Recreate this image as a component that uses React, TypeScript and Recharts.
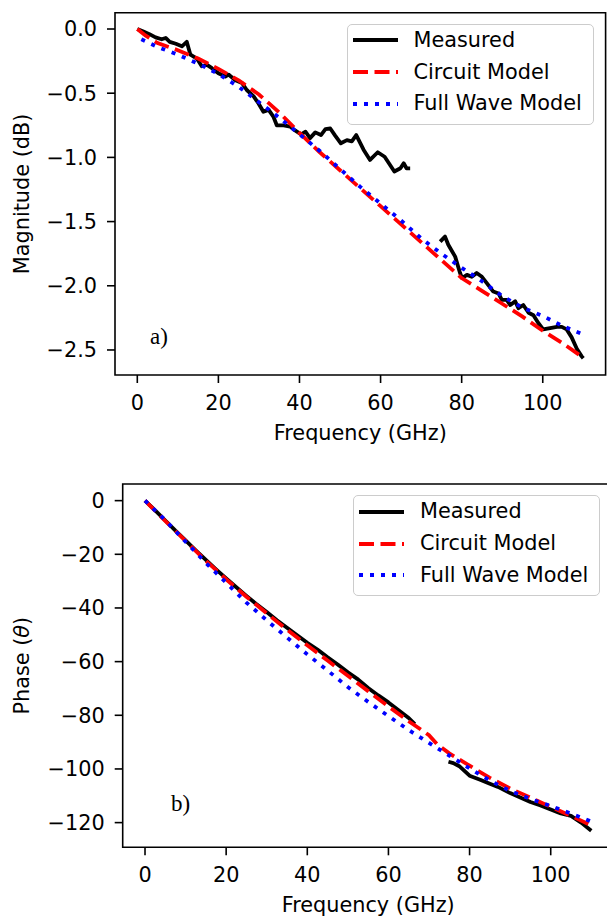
import React from 'react';
import { LineChart, Line, XAxis, YAxis, ReferenceArea, Legend } from 'recharts';

const FONT = 'DejaVu Sans, sans-serif';
const FS = 20.8;
const LW = 3.8;

// shared
const freqTicks = [0, 20, 40, 60, 80, 100];

// a) magnitude (dB)
const magTicks = [0, -0.5, -1.0, -1.5, -2.0, -2.5];
const magMeasFreq = [
  0, 1.5, 3, 4.5, 6, 7, 8, 9.5, 11, 12.2, 13.1, 14.7, 15.9, 17.2, 18.4, 20, 21.7, 22.5, 24.2, 25.8, 27, 28.7,
  29.9, 31.1, 32.4, 33.6, 34.4, 36.1, 37.7, 38.9, 40.4, 41.5, 42.6, 43.9, 45.3, 46.4, 47.6, 48.8, 50.2, 51.7,
  52.9, 54.0, 55.8, 57.4, 59.3, 61, 63.4, 64.9, 65.7, 66.4, 67.3,
  71,
  74.7, 75.9, 76.7, 78.4, 79.6, 80.1, 81.3, 82.5, 83.7, 85, 86.2, 87.8, 89.1, 89.9, 91.1, 92, 93.2, 94, 95.2,
  96.5, 97.7, 98.9, 100.1, 101.8, 103.5, 104.7, 105.9, 107.1, 108.4, 109.6, 110,
];
const magMeasDb = [
  0, -0.02, -0.04, -0.065, -0.08, -0.07, -0.1, -0.115, -0.135, -0.1, -0.2, -0.23, -0.29, -0.28, -0.305, -0.345,
  -0.37, -0.355, -0.4, -0.42, -0.475, -0.525, -0.58, -0.645, -0.63, -0.685, -0.75, -0.75, -0.76, -0.79, -0.82,
  -0.8, -0.85, -0.805, -0.826, -0.78, -0.775, -0.83, -0.89, -0.865, -0.875, -0.826, -0.94, -1.02, -0.96, -0.995,
  -1.11, -1.085, -1.046, -1.085, -1.085,
  null,
  -1.656, -1.617, -1.68, -1.773, -1.9, -1.94, -1.915, -1.93, -1.9, -1.93, -1.98, -2.045, -2.06, -2.11, -2.11,
  -2.15, -2.12, -2.175, -2.15, -2.21, -2.23, -2.29, -2.34, -2.33, -2.32, -2.32, -2.34, -2.4, -2.49, -2.55, -2.565,
];
const magCircuitFreq = [0, 2, 5, 10, 15, 20, 25, 30, 35, 40, 45, 50, 55, 60, 65, 70, 75, 80, 85, 90, 95, 100, 105, 110];
const magCircuitDb = [
  0, -0.05, -0.11, -0.165, -0.23, -0.31, -0.4, -0.51, -0.65, -0.81, -0.96, -1.1, -1.24, -1.38, -1.52, -1.66, -1.8,
  -1.94, -2.04, -2.14, -2.24, -2.35, -2.45, -2.56,
];
const magWaveFreq = [1, 5, 10, 15, 20, 25, 30, 35, 40, 45, 50, 55, 60, 65, 70, 75, 80, 85, 90, 95, 100, 105, 110];
const magWaveDb = [
  -0.08, -0.14, -0.2, -0.27, -0.35, -0.45, -0.57, -0.69, -0.82, -0.95, -1.09, -1.23, -1.36, -1.49, -1.63, -1.75,
  -1.86, -1.965, -2.08, -2.17, -2.235, -2.315, -2.38,
];

// b) phase
const phaseTicks = [0, -20, -40, -60, -80, -100, -120];
const phaseMeasFreq = [
  0, 2.5, 5, 7.5, 10, 12.5, 15, 17.5, 20, 22.5, 25, 27.5, 30, 32.5, 35, 37.5, 40, 42.5, 45, 47.5, 50, 52.5, 55,
  57.5, 60, 62.5, 65, 66.5,
  71,
  74.8, 76, 77.6, 80, 82.6, 85, 87, 90, 92.5, 95, 97.5, 100, 102.5, 105, 107.5, 110,
];
const phaseMeasDeg = [
  0, -3.6, -7.4, -11.2, -14.8, -18.5, -22.1, -25.6, -29, -32.3, -35.5, -38.6, -41.5, -44.6, -47.4, -50.2, -53,
  -55.5, -58.4, -61.1, -64, -66.6, -69.8, -72.6, -75.2, -78.1, -81, -83.3,
  null,
  -97.3, -97.8, -99.1, -102.5, -104, -105.5, -106.7, -109, -110.6, -112.3, -113.6, -115.1, -116.6, -117.5, -120, -123,
];
const phaseCircuitFreq = [0, 5, 10, 15, 20, 25, 30, 35, 40, 45, 50, 55, 60, 65, 70, 72, 75, 80, 85, 90, 95, 100, 105, 110];
const phaseCircuitDeg = [
  0, -7.6, -15, -22.4, -29.3, -35.8, -42, -48.1, -53.9, -59.6, -65.3, -71, -76.7, -82.2, -87.4, -90.8, -94.2, -98.8,
  -103.3, -107.3, -110.7, -114.1, -117.5, -121,
];
const phaseWaveFreq = [0, 5, 10, 15, 20, 25, 30, 35, 40, 45, 50, 55, 60, 65, 70, 75, 80, 85, 90, 95, 100, 105, 110];
const phaseWaveDeg = [
  0, -7.3, -15.3, -23.2, -30.6, -38, -44.6, -51, -57.3, -63.3, -69.5, -75, -80.3, -85.5, -90.3, -95, -99.8, -104.3,
  -108.2, -111.2, -113.8, -116.6, -119.6,
];

const SERIES = [
  { name: 'Measured', color: '#000000', dash: undefined as string | undefined },
  { name: 'Circuit Model', color: '#ff0000', dash: '15 6.5' },
  { name: 'Full Wave Model', color: '#0000ff', dash: '4 7' },
];

const zip = (f: number[], v: (number | null)[]) => f.map((x, i) => ({ f: x, v: v[i] }));

const minus = (s: string) => s.replace('-', '\u2212');
const tickStyle = { fill: '#000', fontSize: FS, fontFamily: FONT };
const tickLine = { stroke: '#000', strokeWidth: 1.6 };

function AxisTitle({ px, py, vertical, caption }: any) {
  return (
    <text
      x={px}
      y={py}
      textAnchor="middle"
      fontFamily={FONT}
      fontSize={FS}
      fill="#000"
      transform={vertical ? `rotate(-90 ${px} ${py})` : undefined}
    >
      {caption}
    </text>
  );
}

function LegendBox() {
  return (
    <div
      style={{
        width: 247,
        height: 101,
        boxSizing: 'border-box',
        border: '1.5px solid #cccccc',
        borderRadius: 5,
        background: 'rgba(255,255,255,0.8)',
        paddingLeft: 5,
        fontFamily: FONT,
        fontSize: FS,
        color: '#000',
      }}
    >
      {SERIES.map((s) => (
        <div key={s.name} style={{ display: 'flex', alignItems: 'center', height: 31.7 }}>
          <svg width={45} height={10} style={{ display: 'block' }}>
            <line x1={0} x2={45} y1={5} y2={5} stroke={s.color} strokeWidth={LW} strokeDasharray={s.dash} />
          </svg>
          <span style={{ marginLeft: 16, lineHeight: 1, whiteSpace: 'nowrap' }}>{s.name}</span>
        </div>
      ))}
    </div>
  );
}

function MagnitudeChart() {
  return (
    <LineChart width={607} height={460} margin={{ top: 12.7, right: 1.4, bottom: 33, left: 0 }}>
      <XAxis
        type="number"
        dataKey="f"
        domain={[-5.5, 115.5]}
        allowDataOverflow
        ticks={freqTicks}
        interval={0}
        height={52}
        tickSize={8}
        tickMargin={12}
        axisLine={false}
        tickLine={tickLine}
        tick={tickStyle}
        label={<AxisTitle px={360.3} py={440} caption="Frequency (GHz)" />}
      />
      <YAxis
        type="number"
        domain={[-2.695, 0.127]}
        allowDataOverflow
        ticks={magTicks}
        interval={0}
        width={115}
        tickSize={8}
        tickMargin={10}
        axisLine={false}
        tickLine={tickLine}
        tick={tickStyle}
        tickFormatter={(v: number) => minus(v.toFixed(1))}
        label={<AxisTitle px={29} py={193.9} vertical caption="Magnitude (dB)" />}
      />
      <ReferenceArea x1={-5.5} x2={115.5} y1={-2.695} y2={0.127} fill="none" stroke="#000" strokeWidth={1.6} />
      <Line data={zip(magMeasFreq, magMeasDb)} dataKey="v" type="linear" stroke="#000" strokeWidth={LW}
        strokeLinejoin="round" dot={false} activeDot={false} isAnimationActive={false} />
      <Line data={zip(magCircuitFreq, magCircuitDb)} dataKey="v" type="linear" stroke="#ff0000" strokeWidth={LW}
        strokeDasharray="15 6.5" dot={false} activeDot={false} isAnimationActive={false} />
      <Line data={zip(magWaveFreq, magWaveDb)} dataKey="v" type="linear" stroke="#0000ff" strokeWidth={LW}
        strokeDasharray="4 7" dot={false} activeDot={false} isAnimationActive={false} />
      <Legend layout="vertical" align="center" verticalAlign="middle"
        wrapperStyle={{ left: 346.5, top: 23.5, width: 247, height: 101 }} content={() => <LegendBox />} />
    </LineChart>
  );
}

function PhaseChart() {
  return (
    <LineChart width={620} height={459} margin={{ top: 24, right: 6.4, bottom: 19.7, left: 0 }}>
      <XAxis
        type="number"
        dataKey="f"
        domain={[-5.5, 115.5]}
        allowDataOverflow
        ticks={freqTicks}
        interval={0}
        height={52}
        tickSize={8}
        tickMargin={12}
        axisLine={false}
        tickLine={tickLine}
        tick={tickStyle}
        label={<AxisTitle px={368.2} py={452} caption="Frequency (GHz)" />}
      />
      <YAxis
        type="number"
        domain={[-129.2, 6.2]}
        allowDataOverflow
        ticks={phaseTicks}
        interval={0}
        width={122.7}
        tickSize={8}
        tickMargin={10}
        axisLine={false}
        tickLine={tickLine}
        tick={tickStyle}
        tickFormatter={(v: number) => minus(String(v))}
        label={
          <AxisTitle px={29} py={205.7} vertical caption={<>Phase (<tspan fontStyle="italic">θ</tspan>)</>} />
        }
      />
      <ReferenceArea x1={-5.5} x2={115.5} y1={-129.2} y2={6.2} fill="none" stroke="#000" strokeWidth={1.6} />
      <Line data={zip(phaseMeasFreq, phaseMeasDeg)} dataKey="v" type="linear" stroke="#000" strokeWidth={LW}
        strokeLinejoin="round" dot={false} activeDot={false} isAnimationActive={false} />
      <Line data={zip(phaseCircuitFreq, phaseCircuitDeg)} dataKey="v" type="linear" stroke="#ff0000" strokeWidth={LW}
        strokeDasharray="15 6.5" dot={false} activeDot={false} isAnimationActive={false} />
      <Line data={zip(phaseWaveFreq, phaseWaveDeg)} dataKey="v" type="linear" stroke="#0000ff" strokeWidth={LW}
        strokeDasharray="4 7" dot={false} activeDot={false} isAnimationActive={false} />
      <Legend layout="vertical" align="center" verticalAlign="middle"
        wrapperStyle={{ left: 353, top: 35, width: 247, height: 101 }} content={() => <LegendBox />} />
    </LineChart>
  );
}

export default function App() {
  return (
    <div style={{ position: 'absolute', left: 0, top: 0, width: 607, height: 919, overflow: 'hidden', background: '#fff' }}>
      <div style={{ position: 'absolute', left: 0, top: 0 }}>
        <MagnitudeChart />
      </div>
      <div style={{ position: 'absolute', left: 0, top: 460 }}>
        <PhaseChart />
      </div>
      <svg width={607} height={919} style={{ position: 'absolute', left: 0, top: 0, pointerEvents: 'none' }}>
        <text x={150} y={344} fontFamily="Liberation Serif, serif" fontSize={23} fill="#000">a)</text>
        <text x={171} y={811} fontFamily="Liberation Serif, serif" fontSize={23} fill="#000">b)</text>
      </svg>
    </div>
  );
}
